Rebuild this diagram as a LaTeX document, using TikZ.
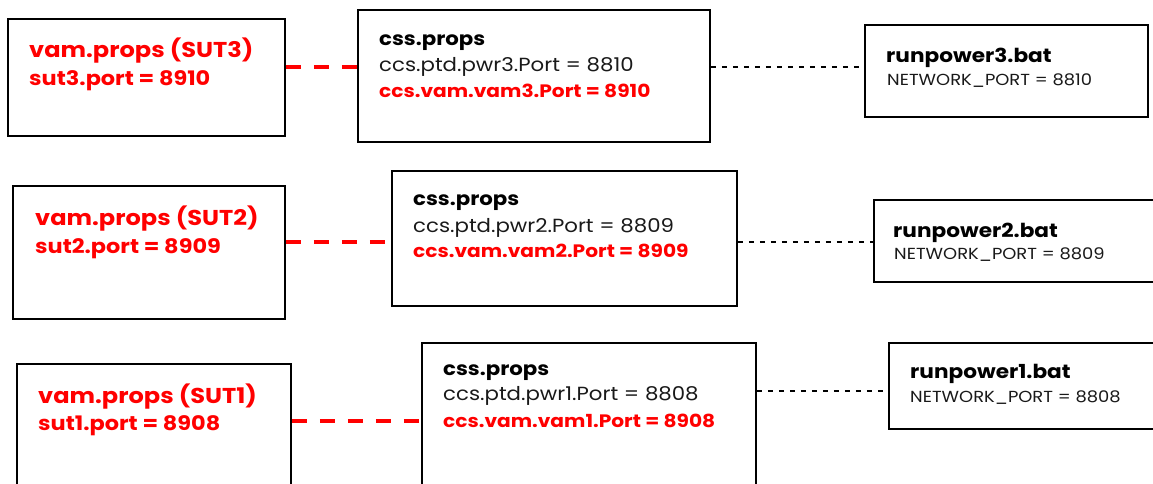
\documentclass[tikz,border=0pt]{standalone}
\usepackage{fontspec}
\setmainfont{Poppins}[FakeStretch=1.12]
\definecolor{vred}{RGB}{255,0,0}
\definecolor{ink}{RGB}{25,25,25}
\begin{document}
\begin{tikzpicture}[x=1pt,y=-1pt,
  box/.style={draw=black,line width=1.8pt,rectangle,inner sep=0pt},
  txt/.style={anchor=base west,inner sep=0pt},
  sutt/.style={txt,text=vred,font=\fontsize{21.5}{25}\selectfont\bfseries},
  sutp/.style={txt,text=vred,font=\fontsize{20}{24}\selectfont\bfseries},
  head/.style={txt,text=black,font=\fontsize{19}{23}\selectfont\bfseries},
  bathead/.style={txt,text=black,font=\fontsize{19.3}{23}\selectfont\bfseries},
  plain/.style={txt,text=ink,font=\fontsize{19}{23}\selectfont},
  redb/.style={txt,text=vred,font=\fontsize{18}{22}\selectfont\bfseries},
  small/.style={txt,text=ink,font=\fontsize{16}{19}\selectfont},
  reddash/.style={draw=vred,line width=3.5pt,dash pattern=on 15pt off 13pt},
  blkdash/.style={draw=black,line width=1.2pt,dash pattern=on 5pt off 6pt}]
\useasboundingbox (0,0) rectangle (1153,483);
\clip (0,0) rectangle (1153,483);
% row 3
\node[box,minimum width=277pt,minimum height=117pt] (sut3) at (146.5,77.5) {};
\node[box,minimum width=352pt,minimum height=132pt] (css3) at (534,76) {};
\node[box,minimum width=283pt,minimum height=92pt] (run3) at (1006.5,71) {};
\node[sutt] (sut3a) at (29,57) {vam.props (SUT3)};
\node[sutp] (sut3b) at (29,85) {sut3.port = 8910};
\node[head] (css3a) at (379,45) {css.props};
\node[plain] (css3b) at (379,71) {ccs.ptd.pwr3.Port = 8810};
\node[redb] (css3c) at (379,97) {ccs.vam.vam3.Port = 8910};
\node[bathead] (run3a) at (886,62) {runpower3.bat};
\node[small] (run3b) at (887,85) {NETWORK\_PORT = 8810};
\coordinate (r3) at (0,67);
\draw[reddash] (sut3.east |- r3) -- (css3.west |- r3);
\draw[blkdash] (css3.east |- r3) -- (run3.west |- r3);
% row 2
\node[box,minimum width=272pt,minimum height=133pt] (sut2) at (149,252.5) {};
\node[box,minimum width=345pt,minimum height=135pt] (css2) at (564.5,238.5) {};
\node[box,minimum width=286pt,minimum height=82pt] (run2) at (1017,241) {};
\node[sutt] (sut2a) at (35,225) {vam.props (SUT2)};
\node[sutp] (sut2b) at (35,253) {sut2.port = 8909};
\node[head] (css2a) at (413,205) {css.props};
\node[plain] (css2b) at (413,232) {ccs.ptd.pwr2.Port = 8809};
\node[redb] (css2c) at (413,257) {ccs.vam.vam2.Port = 8909};
\node[bathead] (run2a) at (893,237) {runpower2.bat};
\node[small] (run2b) at (894,259) {NETWORK\_PORT = 8809};
\coordinate (r2) at (0,242);
\draw[reddash] (sut2.east |- r2) -- (css2.west |- r2);
\draw[blkdash] (css2.east |- r2) -- (run2.west |- r2);
% row 1
\node[box,minimum width=274pt,minimum height=136pt] (sut1) at (154,432) {};
\node[box,minimum width=334pt,minimum height=157pt] (css1) at (589,421.5) {};
\node[box,minimum width=276pt,minimum height=86pt] (run1) at (1027,386) {};
\node[sutt] (sut1a) at (38,403) {vam.props (SUT1)};
\node[sutp] (sut1b) at (38,430) {sut1.port = 8908};
\node[head] (css1a) at (443,375) {css.props};
\node[plain] (css1b) at (443,400) {ccs.ptd.pwr1.Port = 8808};
\node[redb] (css1c) at (443,427) {ccs.vam.vam1.Port = 8908};
\node[bathead] (run1a) at (910,378) {runpower1.bat};
\node[small] (run1b) at (910,402) {NETWORK\_PORT = 8808};
\coordinate (r1) at (0,421);
\coordinate (q1) at (0,391);
\draw[reddash] (sut1.east |- r1) -- (css1.west |- r1);
\draw[blkdash] (css1.east |- q1) -- (run1.west |- q1);
\end{tikzpicture}
\end{document}
